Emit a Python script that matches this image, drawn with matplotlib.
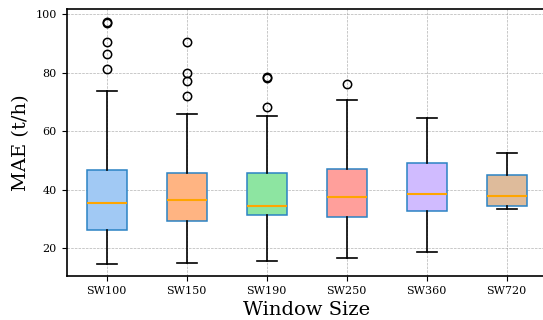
import matplotlib
matplotlib.use("Agg")
import matplotlib.pyplot as plt

labels = ["SW100", "SW150", "SW190", "SW250", "SW360", "SW720"]
q1 = [26.1, 29.2, 31.5, 30.7, 32.8, 34.5]
med = [35.6, 36.6, 34.6, 37.4, 38.4, 37.8]
q3 = [46.8, 45.8, 45.6, 47.1, 49.2, 45.1]
whislo = [14.6, 15.0, 15.6, 16.8, 18.6, 33.5]
whishi = [73.7, 65.7, 65.2, 70.5, 64.6, 52.6]
fliers = [
    [97.4, 97.0, 90.4, 86.2, 81.3],
    [90.4, 79.9, 77.0, 72.0],
    [78.4, 78.1, 68.3],
    [76.1],
    [],
    [],
]
colors = ["#a1c9f4", "#ffb482", "#8de5a1", "#ff9f9b", "#d0bbff", "#debb9b"]

plt.rcParams["font.family"] = "DejaVu Serif"
fig = plt.figure(figsize=(5.43, 3.2), dpi=100)
ax = fig.add_axes([0.1228, 0.138, 0.884, 0.833])

stats = []
for i, lab in enumerate(labels):
    stats.append(dict(label=lab, q1=q1[i], med=med[i], q3=q3[i],
                      whislo=whislo[i], whishi=whishi[i], fliers=fliers[i]))

bp = ax.bxp(stats, patch_artist=True, widths=0.5,
            boxprops=dict(edgecolor="#2b83c4", linewidth=1.1),
            medianprops=dict(color="orange", linewidth=1.5),
            whiskerprops=dict(color="black", linewidth=1.2),
            capprops=dict(color="black", linewidth=1.2),
            flierprops=dict(marker="o", markerfacecolor="none",
                            markeredgecolor="black", markersize=6,
                            markeredgewidth=1.1))
for patch, c in zip(bp["boxes"], colors):
    patch.set_facecolor(c)

ax.set_xlim(0.5, 6.5)
ax.set_ylim(10.6, 101.6)
ax.set_yticks([20, 40, 60, 80, 100])
ax.grid(True, linestyle="--", linewidth=0.5, color="#a0a0a0", alpha=0.8)
ax.set_axisbelow(True)
ax.tick_params(labelsize=8)
for s in ax.spines.values():
    s.set_linewidth(1.2)
ax.set_xlabel("Window Size", fontsize=14)
ax.set_ylabel("MAE (t/h)", fontsize=14)

fig.savefig("out.png", dpi=100)
